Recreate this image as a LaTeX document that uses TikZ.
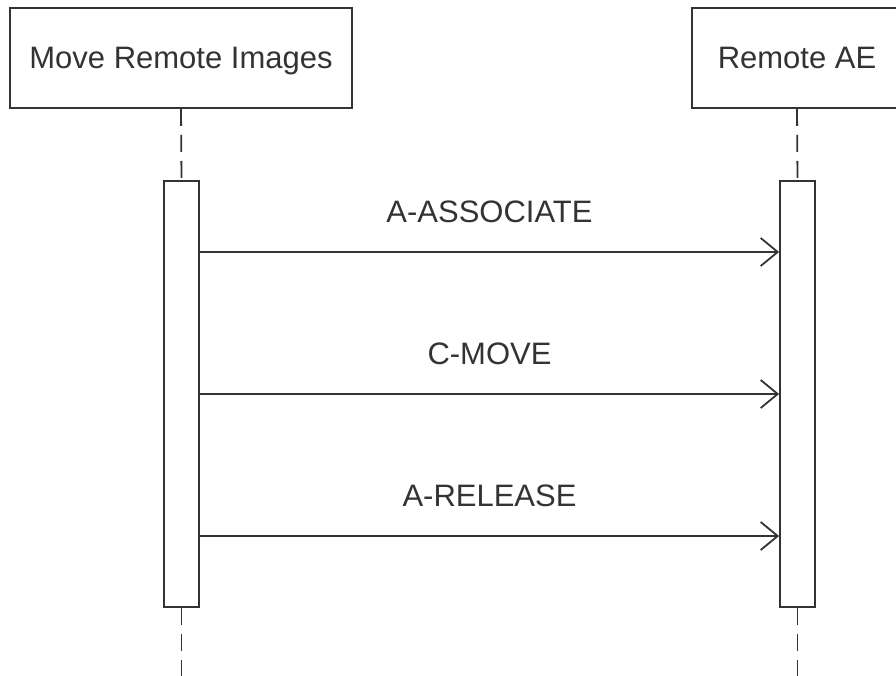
\documentclass[tikz,border=0pt]{standalone}
\usepackage{fontspec}
\setmainfont{Liberation Sans}
\usetikzlibrary{arrows.meta, positioning}

\tikzset{
	header/.style={draw, line width=1.8pt, minimum height=100pt, inner sep=0pt, text height=22pt, text depth=0pt, font=\fontsize{31}{36}\selectfont},
	bar/.style={draw, line width=1.8pt, minimum width=35pt, minimum height=426pt, inner sep=0pt},
	life/.style={line width=1.8pt, dash pattern=on 17pt off 9pt},
	msg/.style={line width=1.8pt, -{Straight Barb[length=17pt, width=28pt, line width=1.8pt]}},
	msglabel/.style={font=\fontsize{31}{36}\selectfont, yshift=40pt}
}

\begin{document}
\begin{tikzpicture}[x=1pt, y=-1pt, black!80]
	\useasboundingbox (0,0) rectangle (896,676);

	% participants
	\node[header, minimum width=342pt] (mri) at (181,58) {Move Remote Images};
	\node[header, minimum width=210pt] (rae) at (797,58) {Remote AE};

	% activation bars
	\node[bar] (barL) at (181.5,394) {};
	\node[bar] (barR) at (797.5,394) {};

	% lifelines
	\draw[life] (mri.south) -- (barL.north);
	\draw[life] (rae.south) -- (barR.north);
	\draw[life] (barL.south) -- ++(0,70);
	\draw[life] (barR.south) -- ++(0,70);

	% messages
	\draw[msg] (barL.east |- 0,252) -- (barR.west |- 0,252) node[midway, msglabel] (assoc) {A-ASSOCIATE};
	\draw[msg] (barL.east |- 0,394) -- (barR.west |- 0,394) node[midway, msglabel] (move) {C-MOVE};
	\draw[msg] (barL.east |- 0,536) -- (barR.west |- 0,536) node[midway, msglabel] (release) {A-RELEASE};
\end{tikzpicture}
\end{document}
